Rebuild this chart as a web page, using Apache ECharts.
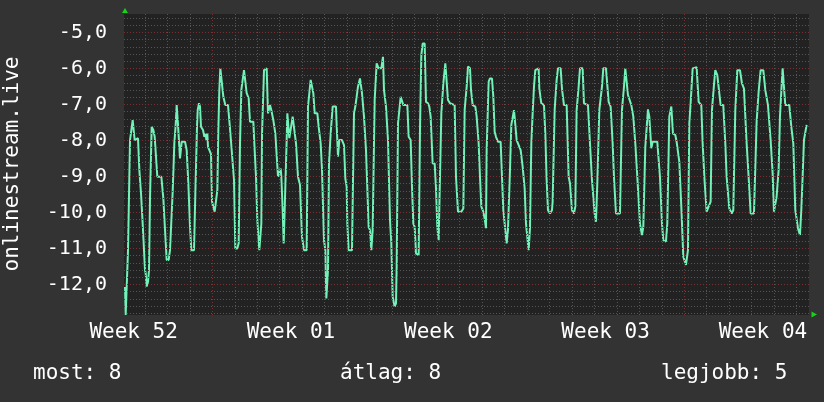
<!DOCTYPE html>
<html><head><meta charset="utf-8">
<script src="https://cdn.jsdelivr.net/npm/echarts@6/dist/echarts.min.js"></script>
<style>html,body{margin:0;padding:0;background:#333333;}#c{width:824px;height:402px;}</style>
</head><body><div id="c"></div>
<script>
// time in hours relative to the start of Week 01 (Monday 00:00)
const hours = [
-93.22,-92.51,-90.73,-90.02,-88.59,-87.88,-85.75,-85.03,-83.61,-82.90,-79.34,-77.92,-76.14,-74.36,-73.29,-71.86,-71.15,-70.09,-68.66,-67.59,
-66.53,-64.75,-62.97,-61.54,-58.71,-54.42,-52.29,-50.87,-48.73,-46.59,-45.17,-43.39,-42.32,-40.54,-39.12,-38.05,-36.63,-35.56,-34.49,-32.71,
-29.15,-27.37,-25.59,-23.81,-22.39,-19.54,-18.12,-16.34,-15.63,-14.20,-13.14,-12.07,-9.93,-8.51,-7.09,-6.37,-5.31,-4.59,-3.17,-1.39,
-0.32,1.46,2.53,4.66,5.38,6.44,7.51,8.58,10.36,11.78,13.91,16.76,18.90,21.03,23.17,24.59,26.73,28.15,29.58,31.00,
32.42,33.85,35.27,36.70,38.83,40.25,43.81,45.24,46.66,48.08,50.22,
51.65,52.36,53.07,55.21,55.92,58.05,59.48,61.61,63.04,65.17,67.31,70.16,71.58,73.00,73.72,75.14,76.21,77.27,79.41,80.12,
81.19,82.26,84.39,85.82,87.24,89.38,91.51,93.65,95.78,97.92,100.77,102.19,103.26,105.04,106.46,107.89,109.31,112.16,113.58,115.72,
117.14,119.27,120.70,121.77,123.55,124.61,126.39,128.53,130.66,132.09,132.80,134.22,135.65,138.50,140.63,142.06,143.48,144.19,145.62,149.17,
151.31,152.73,155.58,157.71,159.85,161.99,164.12,166.97,168.39,169.82,171.24,173.38,175.51,177.65,180.49,182.27,183.34,185.48,187.61,189.75,
191.17,192.60,194.73,
196.16,196.87,198.30,199.72,201.14,202.56,203.99,208.26,209.69,211.82,213.24,214.67,216.09,217.52,220.36,221.79,223.21,224.63,226.77,228.19,
230.33,231.75,233.18,235.31,237.45,238.87,240.30,241.72,243.14,244.57,246.70,248.84,250.26,251.69,253.82,258.80,260.23,262.36,265.92,268.06,
269.48,271.62,273.04,275.18,276.25,278.02,280.87,282.29,284.43,285.85,287.28,289.41,290.84,292.26,292.97,295.11,296.53,298.67,300.09,301.52,
302.94,305.07,307.92,309.35,310.77,312.91,314.33,315.75,317.89,319.31,320.74,322.16,323.58,325.01,327.14,329.28,331.41,333.55,334.97,337.82,
339.24,340.67,342.09,343.51,344.93,
346.00,348.49,349.20,351.34,354.19,355.61,357.04,358.46,360.59,362.73,363.44,365.58,367.71,369.14,371.98,373.41,375.54,378.39,380.53,381.95,
384.09,386.22,387.65,389.07,391.20,392.63,395.47,396.90,401.17,403.31,405.44,406.87,408.29,409.71,411.14,413.27,416.12,417.54,420.39,423.24,
425.37,427.51,428.93,431.07,435.34,437.47,439.61,441.03,442.46,443.88,447.44,449.58,451.71,453.85,456.70,458.83,460.26,462.39,465.24,466.66,
468.80,470.22,475.20,476.63,478.05,480.19,481.61,484.46,485.88,488.02,490.15,
491.94,494.43,495.85,498.70,500.84,502.97,504.40,505.82,507.96,509.38,510.80,512.94,517.21,519.34,522.19,523.62,525.75,527.89,530.02,532.16,
533.58,535.72,537.14,539.28,542.83,545.68,547.82,549.24,552.09,554.94,556.36,558.50,560.63,563.48,565.62,567.75,570.60,572.73,574.87,578.43,
581.28,583.41,585.55,588.39,590.53,593.38,596.22,598.36,599.78,601.21,602.63,604.77,606.19,607.61,609.04,610.46,611.89,616.16,618.29,620.43,
622.57,625.41,627.55,628.97,630.40,631.82,634.67
];
const values = [
-12.07,-12.85,-12.85,-11.05,-11.05,-7.99,-7.99,-7.44,-7.44,-7.99,-7.94,-8.82,-9.47,-10.31,-10.35,-11.60,-11.69,-12.06,-11.93,-11.60,
-9.61,-7.62,-7.71,-7.90,-9.01,-9.01,-9.61,-10.31,-11.32,-11.32,-11.05,-11.03,-9.43,-8.08,-7.57,-7.02,-7.57,-7.57,-8.50,-8.04,
-8.04,-8.27,-9.19,-10.40,-11.05,-11.05,-9.47,-7.62,-7.16,-6.97,-7.06,-7.62,-7.71,-7.90,-7.81,-7.99,-7.81,-8.18,-8.22,-8.38,
-9.70,-9.75,-9.98,-9.94,-9.38,-7.71,-6.60,-6.00,-5.95,-6.79,-7.02,-7.02,-7.67,-7.71,-9.10,-11.00,-11.00,-10.86,-8.08,-6.60,
-6.56,-6.05,-6.00,-6.69,-6.83,-7.48,-7.48,-8.27,-9.01,-10.21,-11.05,
-11.05,-10.31,-7.85,-6.05,-6.00,-6.00,-7.25,-7.02,-7.16,-7.44,-7.81,-9.01,-9.01,-8.78,-9.01,-9.94,-10.86,-9.94,-7.99,-7.25,
-7.25,-7.94,-7.90,-7.34,-7.34,-8.08,-9.01,-9.24,-10.68,-11.05,-11.05,-7.06,-7.02,-6.32,-6.37,-6.69,-7.25,-7.25,-7.62,-8.08,
-8.82,-10.77,-11.05,-12.39,-11.60,-8.64,-7.81,-7.06,-7.02,-7.06,-7.57,-8.45,-7.99,-7.99,-8.13,-9.06,-9.29,-10.31,-11.05,-11.05,
-7.25,-7.06,-6.51,-6.28,-6.69,-7.34,-8.27,-10.40,-10.49,-11.05,-10.49,-6.88,-5.86,-6.00,-6.00,-5.68,-6.60,-7.06,-7.99,-10.21,
-10.86,-12.34,-12.62,
-12.53,-11.51,-7.53,-7.48,-6.79,-6.79,-7.02,-7.02,-7.90,-7.99,-9.29,-10.31,-10.40,-11.14,-11.19,-7.67,-5.63,-5.31,-5.31,-6.93,
-6.97,-7.06,-7.34,-8.64,-8.64,-9.33,-10.40,-10.77,-10.77,-7.25,-6.42,-5.86,-5.86,-6.88,-6.97,-7.02,-9.01,-9.98,-9.98,-9.89,
-7.16,-6.51,-5.95,-6.00,-6.60,-7.02,-7.06,-7.34,-8.08,-9.01,-9.84,-9.98,-10.17,-10.44,-8.27,-6.37,-6.28,-6.28,-6.79,-7.76,
-7.90,-8.04,-8.04,-9.01,-9.94,-10.49,-10.86,-10.49,-8.82,-7.57,-7.57,-7.16,-7.57,-7.99,-8.04,-8.27,-8.73,-9.33,-10.31,-11.05,
-10.44,-8.08,-7.25,-6.51,-6.05,
-6.00,-6.00,-6.56,-6.97,-7.02,-7.81,-9.10,-9.94,-10.03,-9.94,-9.70,-7.16,-6.32,-6.00,-6.00,-6.56,-7.02,-7.02,-9.01,-9.19,
-9.94,-10.03,-9.84,-7.16,-6.51,-6.00,-6.00,-6.97,-7.02,-8.08,-9.10,-9.56,-10.03,-10.26,-9.19,-7.16,-6.51,-6.00,-6.00,-6.93,
-7.06,-8.08,-9.01,-10.03,-10.03,-7.16,-6.51,-6.00,-6.00,-6.74,-7.02,-7.34,-8.08,-9.01,-10.31,-10.63,-10.40,-8.18,-7.14,-7.34,
-8.22,-8.04,-8.04,-8.08,-9.01,-10.31,-10.77,-10.81,-10.31,-7.34,-7.06,
-7.81,-7.85,-8.04,-8.59,-9.84,-11.23,-11.28,-11.46,-11.05,-7.53,-6.97,-6.00,-5.97,-6.93,-7.02,-8.08,-9.15,-9.98,-10.03,-9.70,
-7.16,-6.46,-6.05,-6.19,-7.02,-7.02,-8.08,-9.01,-9.89,-10.03,-9.94,-7.16,-6.05,-6.05,-6.42,-6.56,-8.08,-9.01,-10.03,-10.03,
-7.48,-6.65,-6.05,-6.05,-6.60,-7.02,-7.99,-8.91,-9.98,-9.98,-9.56,-8.82,-7.34,-6.65,-6.00,-6.00,-7.02,-7.02,-7.62,-8.08,
-9.94,-10.44,-10.63,-9.94,-9.01,-7.99,-7.57
];
const yTickValues = [-12, -11, -10, -9, -8, -7, -6, -5];
const weekLabels = ['Week 52', 'Week 01', 'Week 02', 'Week 03', 'Week 04'];
const weekLabelHours = [-84, 84, 252, 420, 588];
const weekStartHours = [0, 168, 336, 504];
const yTitle = 'onlinestream.live';
const statTexts = ['most: 8', 'átlag: 8', 'legjobb: 5'];

const X_MIN = -94.3, X_MAX = 637.2, Y_MIN = -12.85, Y_MAX = -4.49;
const MONO = '"DejaVu Sans Mono", monospace';
const minorStyle = { color: '#555555', type: [1, 2], width: 1 };
const majorStyle = { color: '#7a3030', type: [1, 2], width: 1 };

const pts = hours.map((h, i) => [h, values[i]]);

const gridLines = [];
for (let h = -72; h <= X_MAX; h += 24) {
  if (weekStartHours.indexOf(h) < 0) gridLines.push({ xAxis: h, lineStyle: minorStyle });
}
for (let k = -64; k <= -23; k++) {
  const v = Math.round(k * 2) / 10;
  if (Math.abs(v - Math.round(v)) > 1e-6) gridLines.push({ yAxis: v, lineStyle: minorStyle });
}
weekStartHours.forEach(h => gridLines.push({ xAxis: h, lineStyle: majorStyle }));
yTickValues.forEach(v => gridLines.push({ yAxis: v, lineStyle: majorStyle }));

const chart = echarts.init(document.getElementById('c'), null, { renderer: 'canvas' });
chart.setOption({
  backgroundColor: '#333333',
  animation: false,
  grid: { left: 124, right: 15, top: 14, bottom: 87, show: true, backgroundColor: '#222222', borderWidth: 0 },
  xAxis: {
    type: 'value', min: X_MIN, max: X_MAX,
    splitLine: { show: false }, axisTick: { show: false }, axisLine: { show: false },
    axisLabel: {
      customValues: weekLabelHours, margin: 7, color: '#ffffff',
      fontFamily: MONO, fontSize: 21, hideOverlap: false,
      formatter: v => { const i = weekLabelHours.indexOf(v); return i >= 0 ? weekLabels[i] : ''; }
    }
  },
  yAxis: {
    type: 'value', min: Y_MIN, max: Y_MAX,
    splitLine: { show: false }, axisTick: { show: false }, axisLine: { show: false },
    axisLabel: {
      customValues: yTickValues, margin: 17, color: '#ffffff',
      fontFamily: MONO, fontSize: 20,
      formatter: v => v.toFixed(1).replace('.', ',')
    }
  },
  series: [
    {
      type: 'line', data: pts, showSymbol: false, silent: true, z: 1,
      lineStyle: { opacity: 0 },
      markLine: { silent: true, symbol: 'none', animation: false, label: { show: false }, data: gridLines }
    },
    {
      type: 'line', data: pts, showSymbol: false, silent: true, z: 3,
      lineStyle: { color: '#72f2b9', width: 2 }
    }
  ]
});

const c0 = chart.convertToPixel({ gridIndex: 0 }, [X_MIN, Y_MAX]);
const c1 = chart.convertToPixel({ gridIndex: 0 }, [X_MAX, Y_MIN]);
chart.setOption({
  graphic: [
    { type: 'text', x: 13, y: 164, rotation: Math.PI / 2,
      style: { text: yTitle, fill: '#ffffff', font: '21px ' + MONO, align: 'center', verticalAlign: 'middle', textAlign: 'center', textVerticalAlign: 'middle' } },
    { type: 'text', x: 33, y: 374, style: { text: statTexts[0], fill: '#ffffff', font: '21px ' + MONO, verticalAlign: 'middle', textVerticalAlign: 'middle' } },
    { type: 'text', x: 340, y: 374, style: { text: statTexts[1], fill: '#ffffff', font: '21px ' + MONO, verticalAlign: 'middle', textVerticalAlign: 'middle' } },
    { type: 'text', x: 661, y: 374, style: { text: statTexts[2], fill: '#ffffff', font: '21px ' + MONO, verticalAlign: 'middle', textVerticalAlign: 'middle' } },
    { type: 'polygon', shape: { points: [[c0[0] + 1, c0[1] - 6], [c0[0] - 2, c0[1] - 1], [c0[0] + 4, c0[1] - 1]] }, style: { fill: '#18d418' }, z: 10 },
    { type: 'polygon', shape: { points: [[c1[0] + 8, c1[1] - 0.5], [c1[0] + 2.5, c1[1] - 3.5], [c1[0] + 2.5, c1[1] + 2.5]] }, style: { fill: '#18d418' }, z: 10 }
  ]
});
</script>
</body></html>
